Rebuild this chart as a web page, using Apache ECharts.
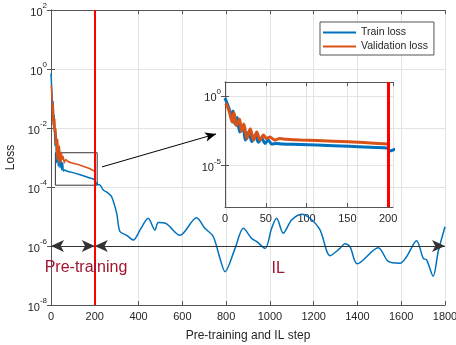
<!DOCTYPE html>
<html><head><meta charset="utf-8">
<script src="https://cdn.jsdelivr.net/npm/echarts@6/dist/echarts.min.js"></script>
<style>html,body{margin:0;padding:0;background:#fff}#c{width:456px;height:345px}</style>
</head><body><div id="c"></div>
<script>
// ---- data ----
const preSteps = [0, 2, 4, 6, 8, 10, 12, 15, 18, 22, 25, 29, 33, 37, 41, 45, 49, 53, 57, 63, 70, 92, 133, 170, 198];
const trainPre = [0.7, 0.35, 0.18, 0.08, 0.036, 0.081, 0.0095, 0.028, 0.0025, 0.0072, 6.6e-4, 2.5e-3, 5e-4, 1.5e-3, 4.5e-4, 9.5e-4, 3.8e-4, 6.6e-4, 3.5e-4, 3.8e-4, 3.5e-4, 3.2e-4, 2.6e-4, 2.1e-4, 1.75e-4];
const valSteps = [0, 2, 5, 9, 11, 14, 18, 20, 23, 27, 31, 35, 39, 43, 47, 51, 55, 61, 67, 75, 92, 133, 170, 200];
const valPre = [0.28, 0.23, 0.081, 0.0126, 0.063, 0.0072, 0.021, 0.0028, 0.0095, 8.5e-4, 4.3e-3, 6.6e-4, 2.5e-3, 6.6e-4, 1.5e-3, 8.5e-4, 1.1e-3, 6.6e-4, 8.5e-4, 7.6e-4, 6.6e-4, 5.5e-4, 4.4e-4, 3.4e-4];
const ilSteps = [203, 208, 215, 224, 239, 260, 277, 300, 315, 346, 376, 407, 444, 475, 490, 528, 589, 665, 703, 741, 772, 795, 841, 879, 917, 940, 978, 1008, 1031, 1061, 1099, 1145, 1183, 1229, 1275, 1320, 1343, 1366, 1399, 1495, 1541, 1594, 1625, 1670, 1701, 1716, 1746, 1769, 1800];
const trainIL = [1.1e-4, 1.4e-4, 1.2e-4, 1.17e-4, 7.9e-5, 6.3e-5, 4.7e-5, 1.3e-5, 3.1e-6, 2.3e-6, 1.6e-6, 3.5e-6, 8.7e-6, 3.5e-6, 6.2e-6, 5.6e-6, 2.3e-6, 9.1e-6, 4e-6, 2.1e-6, 3.8e-7, 1.35e-7, 8.3e-7, 4e-6, 1.8e-6, 1.4e-6, 8.3e-7, 4e-6, 8.7e-6, 2.7e-6, 7.6e-6, 1.2e-5, 8.7e-6, 3.5e-6, 4.7e-7, 8.3e-7, 1.2e-6, 9.5e-7, 2.5e-7, 8.7e-7, 3e-7, 2.6e-7, 4.4e-7, 1.5e-6, 3.8e-7, 3.4e-7, 9.5e-8, 6.5e-7, 4.5e-6];
const phaseSplit = 200;
const phaseLevel = 1e-6;
const zoomBox = [[20, 1.45e-3], [211, 1.15e-4]];
const pointerFrom = [233, 4.8e-4];
const pointerTo = [754, 6.3e-3];
const phaseLabels = [{ name: 'Pre-training', coord: [160, 1.8e-7] }, { name: 'IL', coord: [1038, 1.7e-7] }];
const mainXTicks = { min: 0, max: 1800, interval: 200 };
const mainYTicks = { min: 1e-8, max: 1e2, interval: 2 };
const insetXTicks = { min: 0, max: 206, interval: 50 };
const insetYRange = { min: 1e-8, max: 10 };
const insetYTicks = [1e-5, 1];

// ---- chart ----
const FONT = "'Liberation Sans', Arial, Helvetica, sans-serif";
const TXT = '#262626';
const AX = '#555555';
const GRIDC = '#e3e3e3';
const BLUE = '#0072BD', ORANGE = '#D95319', RED = '#FF0000';

const trainData = preSteps.map((s, i) => [s, trainPre[i]]).concat(ilSteps.map((s, i) => [s, trainIL[i]]));
const valData = valSteps.map((s, i) => [s, valPre[i]]);

function expFmt(v) {
  const e = Math.round(Math.log10(v));
  return '{b|10}{e|' + e + '}';
}
const plainFmt = v => String(v);
const richExp = {
  b: { fontSize: 11, fontFamily: FONT, color: TXT, lineHeight: 16, verticalAlign: 'bottom' },
  e: { fontSize: 8, fontFamily: FONT, color: TXT, lineHeight: 16, verticalAlign: 'top' }
};
const tickStyle = { show: true, inside: true, length: 4, lineStyle: { color: AX } };
const lineAx = { show: true, lineStyle: { color: AX, width: 1 } };

const chart = echarts.init(document.getElementById('c'), null, { renderer: 'canvas' });
chart.setOption({
  animation: false,
  backgroundColor: '#fff',
  textStyle: { fontFamily: FONT },
  grid: [
    { left: 51, top: 10, width: 394, height: 295, containLabel: false, outerBoundsMode: 'none' },
    { left: 225, top: 82, width: 168, height: 125, containLabel: false, outerBoundsMode: 'none' }
  ],
  legend: {
    data: ['Train loss', 'Validation loss'],
    orient: 'vertical',
    left: 320, top: 22,
    padding: [5, 6, 3, 3],
    itemGap: 3,
    itemWidth: 33, itemHeight: 2,
    icon: 'rect',
    backgroundColor: '#fff',
    borderColor: AX, borderWidth: 1,
    textStyle: { fontSize: 10.5, color: TXT, fontFamily: FONT }
  },
  xAxis: [
    { gridIndex: 0, type: 'value', ...mainXTicks, position: 'bottom',
      name: 'Pre-training and IL step', nameLocation: 'middle', nameGap: 25,
      nameTextStyle: { fontSize: 12, color: TXT, fontFamily: FONT },
      axisLine: lineAx, axisTick: tickStyle,
      axisLabel: { fontSize: 11, color: TXT, margin: 6, fontFamily: FONT, formatter: plainFmt },
      splitLine: { show: true, lineStyle: { color: GRIDC, width: 1 } } },
    { gridIndex: 0, type: 'value', ...mainXTicks, position: 'top',
      axisLine: lineAx, axisTick: tickStyle, axisLabel: { show: false }, splitLine: { show: false } },
    { gridIndex: 1, type: 'value', ...insetXTicks, position: 'bottom',
      axisLine: lineAx, axisTick: tickStyle,
      axisLabel: { fontSize: 11, color: TXT, margin: 6, fontFamily: FONT, formatter: plainFmt },
      splitLine: { show: true, lineStyle: { color: GRIDC, width: 1 } } },
    { gridIndex: 1, type: 'value', ...insetXTicks, position: 'top',
      axisLine: lineAx, axisTick: tickStyle, axisLabel: { show: false }, splitLine: { show: false } }
  ],
  yAxis: [
    { gridIndex: 0, type: 'log', logBase: 10, ...mainYTicks, position: 'left',
      name: 'Loss', nameLocation: 'middle', nameGap: 31,
      nameTextStyle: { fontSize: 12, color: TXT, fontFamily: FONT },
      axisLine: lineAx, axisTick: tickStyle,
      axisLabel: { formatter: expFmt, rich: richExp, margin: 4 },
      splitLine: { show: true, lineStyle: { color: GRIDC, width: 1 } } },
    { gridIndex: 0, type: 'log', logBase: 10, ...mainYTicks, position: 'right',
      axisLine: lineAx, axisTick: tickStyle, axisLabel: { show: false }, splitLine: { show: false } },
    { gridIndex: 1, type: 'log', logBase: 10, ...insetYRange, position: 'left',
      axisLine: lineAx,
      axisTick: { ...tickStyle, customValues: insetYTicks },
      axisLabel: { formatter: expFmt, rich: richExp, margin: 4, customValues: insetYTicks },
      splitLine: { show: true, lineStyle: { color: GRIDC, width: 1 } } },
    { gridIndex: 1, type: 'log', logBase: 10, ...insetYRange, position: 'right',
      axisLine: lineAx, axisTick: { ...tickStyle, customValues: insetYTicks },
      axisLabel: { show: false }, splitLine: { show: false } }
  ],
  series: [
    { name: 'Train loss', type: 'line', xAxisIndex: 0, yAxisIndex: 0, data: trainData,
      showSymbol: false, smooth: 0.3, lineStyle: { color: BLUE, width: 1.5 }, itemStyle: { color: BLUE },
      markLine: { silent: true, symbol: ['arrow', 'arrow'], symbolSize: [9, 13],
        label: { show: false }, lineStyle: { color: '#333', width: 1, type: 'solid' },
        data: [
          [{ coord: [mainXTicks.min, phaseLevel] }, { coord: [phaseSplit, phaseLevel] }],
          [{ coord: [phaseSplit, phaseLevel] }, { coord: [mainXTicks.max, phaseLevel] }]
        ] } },
    { name: 'Validation loss', type: 'line', xAxisIndex: 0, yAxisIndex: 0, data: valData,
      showSymbol: false, smooth: 0.3, lineStyle: { color: ORANGE, width: 1.5 }, itemStyle: { color: ORANGE },
      markArea: { silent: true, label: { show: false },
        itemStyle: { color: 'rgba(0,0,0,0)', borderColor: '#333', borderWidth: 1 },
        data: [[{ coord: zoomBox[0] }, { coord: zoomBox[1] }]] },
      markLine: { silent: true, symbol: ['none', 'arrow'], symbolSize: [7, 11],
        label: { show: false }, lineStyle: { color: '#000', width: 1, type: 'solid' },
        data: [[{ coord: pointerFrom }, { coord: pointerTo }]] } },
    { type: 'line', xAxisIndex: 0, yAxisIndex: 0, data: [],
      markLine: { silent: true, symbol: ['none', 'none'], label: { show: false },
        lineStyle: { color: RED, width: 2, type: 'solid' }, data: [{ xAxis: phaseSplit }] },
      markPoint: { silent: true, symbol: 'rect', symbolSize: 0,
        label: { show: true, position: 'inside', formatter: '{b}', color: '#A2142F', fontSize: 16, fontFamily: FONT },
        data: phaseLabels } },
    { name: 'Train loss', type: 'line', xAxisIndex: 2, yAxisIndex: 2, data: trainData,
      showSymbol: false, smooth: 0.3, lineStyle: { color: BLUE, width: 3 }, itemStyle: { color: BLUE } },
    { name: 'Validation loss', type: 'line', xAxisIndex: 2, yAxisIndex: 2, data: valData,
      showSymbol: false, smooth: 0.3, lineStyle: { color: ORANGE, width: 3 }, itemStyle: { color: ORANGE } },
    { type: 'line', xAxisIndex: 2, yAxisIndex: 2, data: [],
      markLine: { silent: true, symbol: ['none', 'none'], label: { show: false },
        lineStyle: { color: RED, width: 3, type: 'solid' }, data: [{ xAxis: phaseSplit }] } }
  ]
});
</script></body></html>
